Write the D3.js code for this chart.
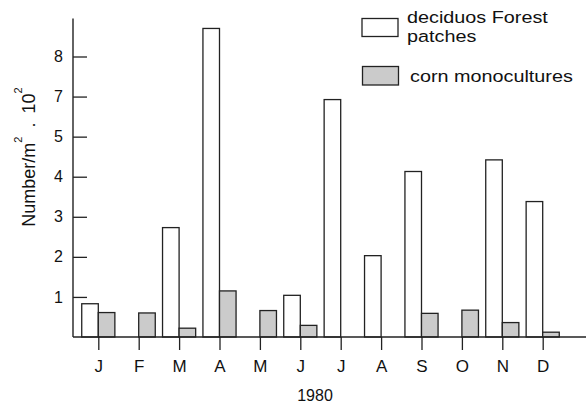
<html>
<head>
  <meta charset="utf-8">
  <title>Number per m2 1980</title>
  <style>
    html, body { margin: 0; padding: 0; background: #fff; }
    svg { display: block; font-family: "Liberation Sans", Arial, sans-serif; }
    .bar { stroke: #222; stroke-width: 1.3px; }
    .tick text { fill: #111; }
    .tick line { stroke: #222; stroke-width: 1.3px; }
  </style>
  <script src="https://d3js.org/d3.v7.min.js" charset="utf-8"></script>
</head>
<body>
<script>
  // data
  var months = ["J", "F", "M", "A", "M ", "J ", "J  ", "A ", "S", "O", "N", "D"];
  var monthLabels = ["J", "F", "M", "A", "M", "J", "J", "A", "S", "O", "N", "D"];
  var forest = [0.83, 0, 2.73, 8.7, 0, 1.04, 6.85, 2.03, 4.13, 0, 4.42, 3.38];
  var corn = [0.61, 0.6, 0.22, 1.15, 0.66, 0.29, 0, 0, 0.59, 0.67, 0.36, 0.12];
  var yTicks = [1, 2, 3, 4, 5, 7, 8];
  var seriesNames = ["deciduos Forest", "patches", "corn monocultures"];
  var yearLabel = "1980";

  var width = 586, height = 405;
  var svg = d3.select("body").append("svg")
    .attr("width", width)
    .attr("height", height);

  var left = 73, base = 337;

  // the printed axis skips 6: positions 0..7 carry labels 0,1,2,3,4,5,7,8
  var yPos = d3.scaleLinear().domain([0, 7]).range([base, 56.5]);
  var y = d3.scaleLinear().domain([0, 5, 7, 9]).range([0, 5, 6, 8].map(yPos));

  var x = d3.scalePoint().domain(months).range([98.3, 542.7]);
  var bw = x.step() * 0.41;

  // bars
  var g = svg.append("g");
  g.selectAll("rect.forest")
    .data(forest.map((v, i) => ({ m: months[i], v: v })).filter(d => d.v > 0))
    .enter().append("rect")
    .attr("class", "bar forest")
    .attr("x", d => x(d.m) - bw)
    .attr("width", bw)
    .attr("y", d => y(d.v))
    .attr("height", d => y(0) - y(d.v))
    .attr("fill", "#fff");

  g.selectAll("rect.corn")
    .data(corn.map((v, i) => ({ m: months[i], v: v })).filter(d => d.v > 0))
    .enter().append("rect")
    .attr("class", "bar corn")
    .attr("x", d => x(d.m))
    .attr("width", bw)
    .attr("y", d => y(d.v))
    .attr("height", d => y(0) - y(d.v))
    .attr("fill", "#cbcbcb");

  // y axis, ticks pointing inward
  var yAxis = d3.axisLeft(y).tickValues(yTicks).tickSizeInner(-14).tickSizeOuter(0).tickPadding(10)
    .tickFormat(d3.format("d"));
  var ya = svg.append("g").attr("transform", `translate(${left},0)`).call(yAxis);
  ya.select(".domain").remove();
  ya.selectAll(".tick text").style("font-size", "16px").style("font-family", null);
  svg.append("line")
    .attr("x1", left).attr("x2", left)
    .attr("y1", y(0)).attr("y2", y(8.95))
    .attr("stroke", "#222").attr("stroke-width", 1.4);

  // x axis
  var xAxis = d3.axisBottom(x).tickSizeInner(13).tickSizeOuter(0).tickPadding(10)
    .tickFormat((d, i) => monthLabels[i]);
  var xa = svg.append("g").attr("transform", `translate(0,${base})`).call(xAxis);
  xa.select(".domain").remove();
  xa.selectAll(".tick text").style("font-size", "17px");
  svg.append("line")
    .attr("x1", left).attr("x2", width)
    .attr("y1", y(0)).attr("y2", y(0))
    .attr("stroke", "#222").attr("stroke-width", 1.4);

  svg.append("text")
    .attr("x", 315).attr("y", 401)
    .attr("text-anchor", "middle")
    .style("font-size", "16px").attr("fill", "#111")
    .text(yearLabel);

  // y title with superscripts
  var title = svg.append("text")
    .attr("transform", "translate(35,157) rotate(-90)")
    .attr("text-anchor", "middle")
    .style("font-size", "18px").attr("fill", "#111");
  title.append("tspan").text("Number/m");
  title.append("tspan").attr("dy", -13).style("font-size", "11px").text("2");
  title.append("tspan").attr("dx", 9).attr("dy", 13).text(".");
  title.append("tspan").attr("dx", 9).text("10");
  title.append("tspan").attr("dy", -13).style("font-size", "11px").text("2");

  // legend (text is a little wide in the original print)
  var lg = svg.append("g");
  lg.append("rect").attr("class", "bar")
    .attr("x", 362).attr("y", 18.5).attr("width", 36).attr("height", 18)
    .attr("fill", "#fff");
  lg.append("text").attr("transform", "translate(407,22.5) scale(1.2,1)")
    .style("font-size", "16.5px").attr("fill", "#111")
    .text(seriesNames[0]);
  lg.append("text").attr("transform", "translate(407,41.5) scale(1.2,1)")
    .style("font-size", "16.5px").attr("fill", "#111")
    .text(seriesNames[1]);
  lg.append("rect").attr("class", "bar")
    .attr("x", 362.5).attr("y", 66.5).attr("width", 36).attr("height", 18.5)
    .attr("fill", "#cbcbcb");
  lg.append("text").attr("transform", "translate(410,81.5) scale(1.2,1)")
    .style("font-size", "16.5px").attr("fill", "#111")
    .text(seriesNames[2]);
</script>
</body>
</html>
